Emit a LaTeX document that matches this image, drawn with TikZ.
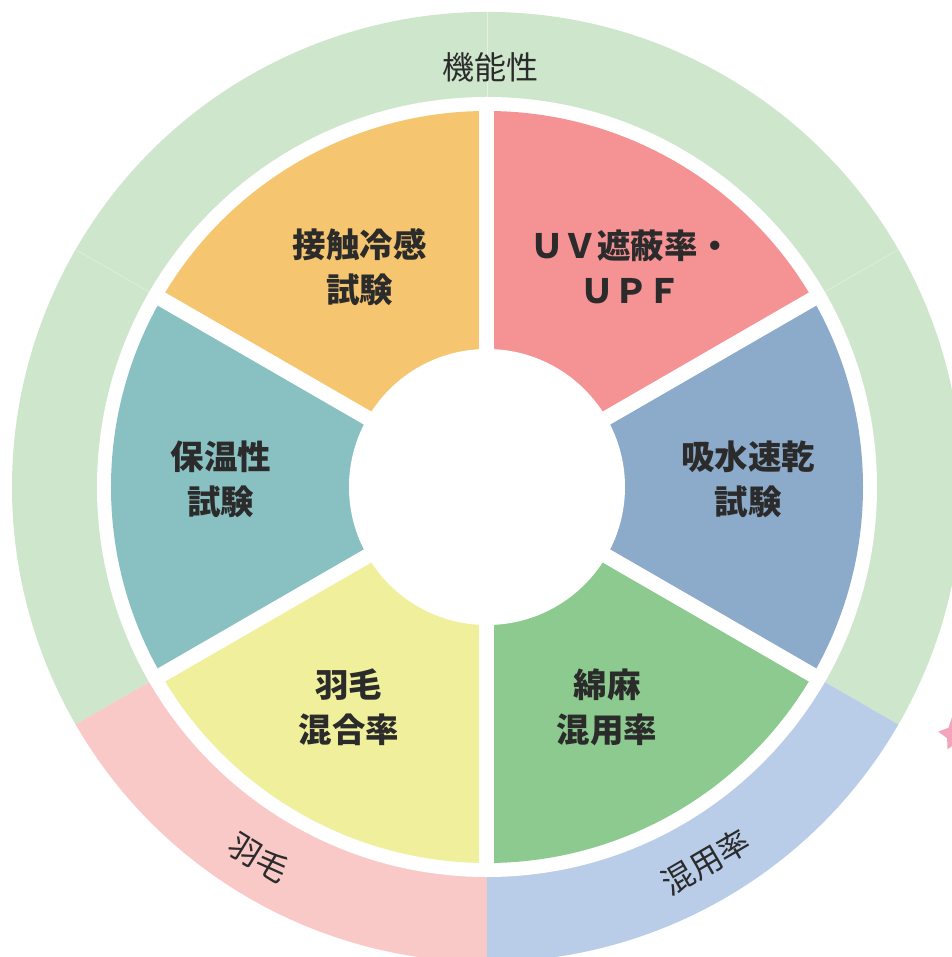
\documentclass[tikz,border=0pt]{standalone}
\usepackage{fontspec}
\setmainfont{Noto Sans CJK JP}
\usetikzlibrary{shapes.geometric}
\definecolor{ringgreen}{HTML}{CEE6CB}
\definecolor{ringpink}{HTML}{F9C9C8}
\definecolor{ringblue}{HTML}{B9CDE9}
\definecolor{secuv}{HTML}{F59293}
\definecolor{secdry}{HTML}{8CAACA}
\definecolor{seccot}{HTML}{8CCA8F}
\definecolor{secdown}{HTML}{F0EF9B}
\definecolor{secwarm}{HTML}{89C1C2}
\definecolor{seccool}{HTML}{F6C56F}
\definecolor{txt}{HTML}{2B2B2B}
\definecolor{flower}{HTML}{F4A3BD}
\tikzset{
  seclabel/.style={text=txt, align=center, font=\bfseries\fontsize{33.5bp}{45bp}\selectfont, inner sep=0pt},
  ringlabel/.style={text=txt, font=\fontsize{32bp}{36bp}\selectfont, inner sep=0pt},
}
\begin{document}
\begin{tikzpicture}[x=1bp,y=1bp]
\useasboundingbox (-487,-470) rectangle (465,487);
\clip (-487,-470) rectangle (465,487);
% outer ring
\fill[ringgreen] (0,0) -- (-30:475bp) arc[start angle=-30,end angle=210,radius=475bp] -- cycle;
\fill[ringpink] (0,0) -- (210:475bp) arc[start angle=210,end angle=270,radius=475bp] -- cycle;
\fill[ringblue] (0,0) -- (270:475bp) arc[start angle=270,end angle=330,radius=475bp] -- cycle;
\foreach \a in {30,90,150}
  \draw[white, opacity=0.45, line width=0.5bp] (\a:390bp) -- (\a:475bp);
\fill[white] (0,0) circle[radius=390bp];
% sectors
\foreach \s/\c in {30/secuv, -30/secdry, -90/seccot, -150/secdown, 150/secwarm, 90/seccool}
  \fill[\c] (0,0) -- (\s:376bp) arc[start angle=\s, end angle=\s+60, radius=376bp] -- cycle;
\foreach \a in {30,90,150,210,270,330}
  \draw[white, line width=15bp] (0,0) -- (\a:385bp);
\fill[white] (0,0) circle[radius=138bp];
% sector labels
\node[seclabel] (cool) at (-127,220) {接触冷感\\試験};
\node[seclabel] (uv) at (144,220) {ＵＶ遮蔽率・\\ＵＰＦ};
\node[seclabel] (dry) at (261,8) {吸水速乾\\試験};
\node[seclabel] (warm) at (-266,8) {保温性\\試験};
\node[seclabel] (cot) at (120,-220) {綿麻\\混用率};
\node[seclabel] (down) at (-138,-220) {羽毛\\混合率};
% ring labels
\node[ringlabel] (func) at (4,420) {機能性};
\node[ringlabel, rotate=-31.6] (ringdown) at (238.4:435bp) {羽毛};
\node[ringlabel, rotate=30.3] (ringmix) at (300.3:434bp) {混用率};
% partial flower at right edge
\node[star, star points=5, star point ratio=1.9, fill=flower, minimum size=34bp, inner sep=0pt, rotate=10] (fl) at (468,-247) {};
\end{tikzpicture}
\end{document}
